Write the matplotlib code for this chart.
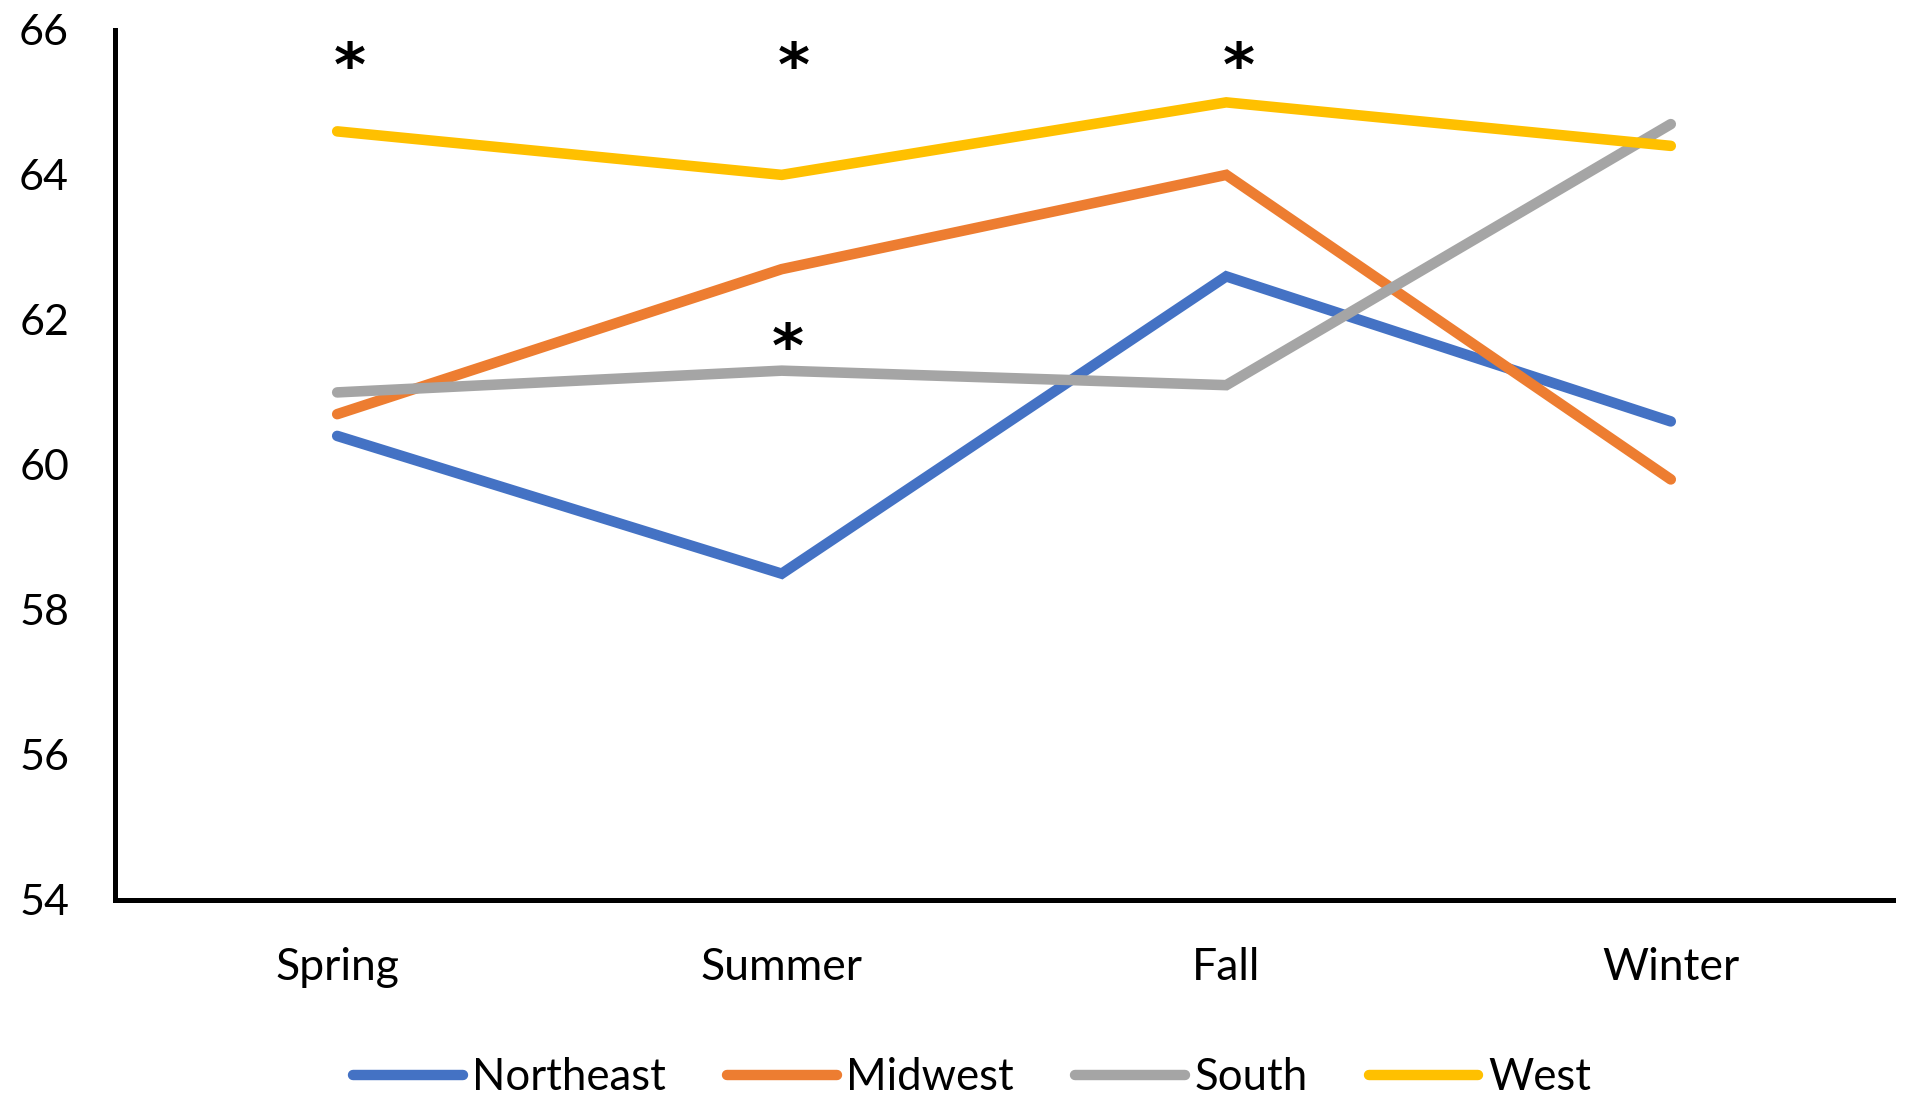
import matplotlib
matplotlib.use("Agg")
import matplotlib.pyplot as plt

plt.rcParams['font.family'] = ['Lato', 'DejaVu Sans']

seasons = ["Spring", "Summer", "Fall", "Winter"]
northeast = [60.4, 58.5, 62.6, 60.6]
midwest = [60.7, 62.7, 64.0, 59.8]
south = [61.0, 61.3, 61.1, 64.7]
west = [64.6, 64.0, 65.0, 64.4]
y_ticks = [54, 56, 58, 60, 62, 64, 66]

# significance markers: (category position, value)
star_top = [(0.528, 65.46), (1.528, 65.46), (2.528, 65.46)]
star_south = [(1.514, 61.58)]

series = [("Northeast", northeast, "#4472C4"),
          ("Midwest", midwest, "#ED7D31"),
          ("South", south, "#A5A5A5"),
          ("West", west, "#FFC000")]

fig = plt.figure(figsize=(19.25, 11.18), dpi=100)
ax = fig.add_axes([0.0597, 0.195, 0.9237, 0.7783])

xs = [i + 0.5 for i in range(len(seasons))]
for name, vals, col in series:
    ax.plot(xs, vals, color=col, lw=7.6, solid_capstyle='round',
            solid_joinstyle='miter', label=name)

for x, v in star_top + star_south:
    ax.text(x, v, "*", fontsize=44, ha='center', va='center',
            color='black', family='DejaVu Sans', fontweight='bold')

ax.set_xlim(0, 4)
ax.set_ylim(54, 66)
ax.set_yticks(y_ticks)
ax.set_yticklabels([str(t) for t in y_ticks])
ax.set_xticks(xs)
ax.set_xticklabels(seasons)
ax.tick_params(axis='y', length=0, labelsize=31, pad=33)
ax.tick_params(axis='x', length=0, labelsize=32, pad=34)
for s in ['top', 'right']:
    ax.spines[s].set_visible(False)
for s in ['left', 'bottom']:
    ax.spines[s].set_linewidth(3.6)
    ax.spines[s].set_color('black')

leg = fig.legend(loc='center', bbox_to_anchor=(0.505, 0.036), ncol=4,
                 frameon=False, fontsize=31.5, handlelength=2.5,
                 handletextpad=0.22, columnspacing=1.4)
for h in leg.get_lines():
    h.set_linewidth(7.5)
    h.set_solid_capstyle('round')

fig.savefig("out.png", dpi=100)
